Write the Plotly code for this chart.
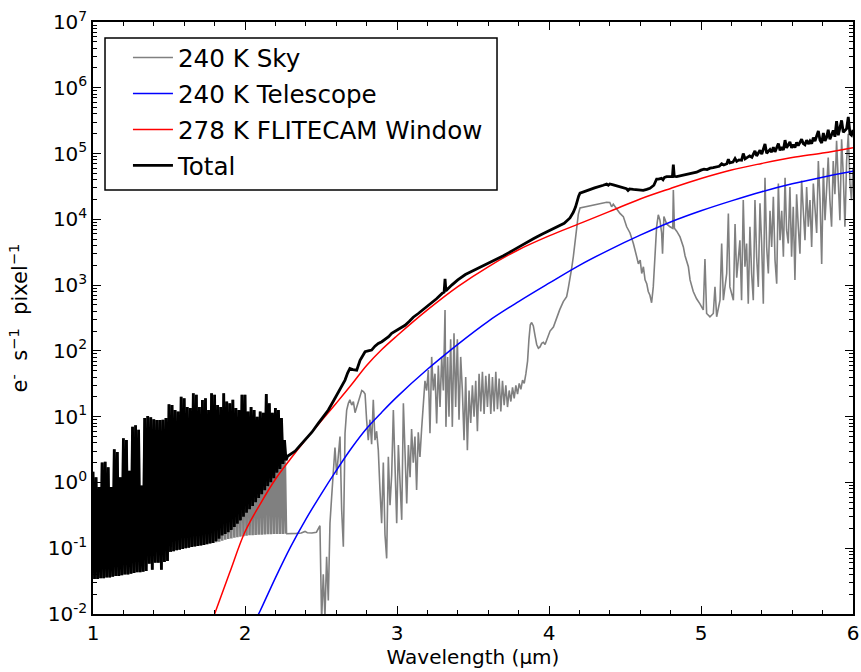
import plotly.graph_objects as go

# ---------------- data ----------------
# Dense OH-line region (1.00-2.27 um): spike peaks on a 0.02 um grid,
# troughs half way between them.
osc_peak_wl = [round(1.00 + 0.02 * i, 2) for i in range(64)]
osc_trough_wl = [round(w + 0.01, 2) for w in osc_peak_wl]

osc_peak = [1.45, 1.2, 0.85, 2.0, 2.07, 1.7, 0.85, 3.2, 2.9, 1.2,
            4.7, 4.4, 1.5, 7.0, 7.4, 6.3, 0.9, 9.5, 10.2, 9.8,
            9.1, 8.9, 8.9, 9.0, 9.5, 15.5, 15.0, 12.6, 12.0, 20.0,
            19.0, 14.0, 13.5, 22.6, 21.5, 14.0, 17.9, 19.0, 12.6, 22.6,
            21.5, 15.0, 14.0, 22.6, 17.0, 16.0, 18.0, 13.5, 12.6, 21.5,
            21.5, 12.0, 14.0, 12.6, 10.0, 12.0, 11.5, 22.0, 16.0, 11.5,
            13.5, 12.6, 9.5, 4.4]

sky_floor = [0.034, 0.034, 0.035, 0.035, 0.036, 0.036, 0.037, 0.038, 0.038, 0.039,
             0.040, 0.040, 0.041, 0.042, 0.043, 0.043, 0.044, 0.045, 0.058, 0.047,
             0.060, 0.060, 0.047, 0.062, 0.064, 0.088, 0.090, 0.093, 0.095, 0.097,
             0.100, 0.102, 0.104, 0.106, 0.108, 0.110, 0.112, 0.115, 0.118, 0.120,
             0.123, 0.126, 0.130, 0.135, 0.138, 0.141, 0.144, 0.147, 0.150, 0.152,
             0.155, 0.157, 0.158, 0.159, 0.160, 0.161, 0.162, 0.163, 0.163, 0.164,
             0.164, 0.165, 0.165, 0.166]

total_floor = [0.034, 0.034, 0.035, 0.035, 0.036, 0.036, 0.037, 0.038, 0.038, 0.039,
               0.040, 0.040, 0.041, 0.042, 0.043, 0.043, 0.044, 0.045, 0.058, 0.047,
               0.060, 0.060, 0.047, 0.062, 0.064, 0.088, 0.090, 0.093, 0.095, 0.097,
               0.100, 0.102, 0.104, 0.106, 0.108, 0.110, 0.112, 0.115, 0.118, 0.120,
               0.128, 0.140, 0.156, 0.165, 0.175, 0.190, 0.210, 0.235, 0.265, 0.300,
               0.345, 0.390, 0.440, 0.500, 0.580, 0.660, 0.760, 0.880, 1.010, 1.160,
               1.410, 1.600, 1.910, 2.170]

# Sky beyond the OH region
sky_wl = [2.28, 2.31, 2.34, 2.37, 2.395, 2.41, 2.44, 2.47, 2.485, 2.493,
          2.504, 2.515, 2.526, 2.537, 2.548, 2.559, 2.57, 2.581, 2.592, 2.603,
          2.614, 2.625, 2.636, 2.647, 2.658, 2.669, 2.68, 2.69, 2.702, 2.713,
          2.724, 2.735, 2.746, 2.757, 2.768, 2.779, 2.79, 2.80, 2.811, 2.822,
          2.833, 2.844, 2.855, 2.866, 2.877, 2.888, 2.899, 2.91, 2.921, 2.932,
          2.943, 2.954, 2.965, 2.976, 2.987, 2.998, 3.009, 3.02, 3.031, 3.042,
          3.053, 3.064, 3.075, 3.086, 3.096, 3.107, 3.118, 3.129, 3.14, 3.151,
          3.162, 3.173, 3.184, 3.195, 3.206, 3.217, 3.228, 3.239, 3.25, 3.261,
          3.272, 3.283, 3.294, 3.305, 3.316, 3.322, 3.333, 3.342, 3.353, 3.364,
          3.375, 3.386, 3.397, 3.408, 3.419, 3.43, 3.441, 3.452, 3.463, 3.474,
          3.485, 3.496, 3.507, 3.518, 3.529, 3.54, 3.551, 3.562, 3.573, 3.584,
          3.595, 3.606, 3.617, 3.628, 3.639, 3.65, 3.661, 3.672, 3.683, 3.694,
          3.705, 3.716, 3.727, 3.738, 3.749, 3.76, 3.771, 3.782, 3.793, 3.804,
          3.815, 3.826, 3.837, 3.848, 3.859, 3.868, 3.877, 3.886, 3.897, 3.908,
          3.919, 3.93, 3.941, 3.952, 3.963, 3.974, 3.985, 4.007, 4.029, 4.05,
          4.07, 4.094, 4.116, 4.127, 4.138, 4.149, 4.16, 4.171, 4.182, 4.193,
          4.204, 4.226, 4.248, 4.27, 4.30, 4.33, 4.357, 4.379, 4.40, 4.412,
          4.423, 4.445, 4.467, 4.489, 4.511, 4.533, 4.555, 4.577, 4.588, 4.60,
          4.61, 4.621, 4.632, 4.643, 4.653, 4.664, 4.675, 4.686, 4.697, 4.708,
          4.719, 4.73, 4.741, 4.747, 4.756, 4.774, 4.796, 4.814, 4.818, 4.825,
          4.84, 4.862, 4.884, 4.895, 4.917, 4.928, 4.949, 4.971, 4.993, 5.015,
          5.026, 5.037, 5.059, 5.081, 5.092, 5.103, 5.125, 5.136, 5.147, 5.169,
          5.18, 5.19, 5.213, 5.224, 5.235, 5.256, 5.267, 5.278, 5.289, 5.30,
          5.311, 5.322, 5.333, 5.344, 5.355, 5.366, 5.377, 5.388, 5.399, 5.41,
          5.421, 5.432, 5.443, 5.454, 5.465, 5.476, 5.487, 5.498, 5.509, 5.52,
          5.531, 5.542, 5.553, 5.563, 5.574, 5.585, 5.596, 5.607, 5.618, 5.629,
          5.64, 5.651, 5.662, 5.673, 5.684, 5.695, 5.706, 5.717, 5.728, 5.739,
          5.75, 5.761, 5.772, 5.783, 5.794, 5.805, 5.816, 5.826, 5.837, 5.848,
          5.859, 5.87, 5.881, 5.892, 5.903, 5.914, 5.925, 5.936, 5.947, 5.958,
          5.969, 5.98, 5.99, 6.0]
sky_val = [0.166, 0.165, 0.168, 0.17, 0.18, 0.172, 0.17, 0.175, 0.21, 0.22,
           0.008, 0.04, 0.009, 0.074, 0.016, 0.24, 0.6, 1.4, 3.4, 1.3,
           2.5, 5.0, 0.38, 0.105, 5.6, 12.6, 16, 18, 15, 17,
           11.5, 14, 16, 20, 25, 24, 22, 9, 4.4, 9,
           3.8, 18, 4.4, 6, 3.1, 0.77, 0.24, 2.0, 0.16, 0.07,
           2.45, 0.45, 1.3, 12.6, 1.2, 0.24, 3.7, 0.9, 0.27, 16,
           2.45, 0.48, 3.7, 1.2, 6.5, 2.0, 5.0, 0.77, 5.8, 2.45,
           6.5, 14, 35, 25, 51, 5.6, 81, 25, 45, 7.9,
           60, 14, 81, 25, 417, 7, 81, 10, 150, 7,
           185, 14, 150, 9, 81, 25, 4.4, 40, 3.1, 25,
           8, 30, 10, 35, 6, 45, 12, 48, 11, 42,
           14, 45, 11, 40, 12, 48, 13, 38, 12, 35,
           15, 30, 14, 25, 17, 28, 19, 30, 22, 32,
           26, 36, 32, 45, 70, 150, 250, 270, 240, 170,
           125, 110, 115, 130, 135, 125, 150, 200, 230, 320,
           420, 560, 665, 900, 1200, 1800, 2700, 4200, 6300, 12000,
           14900, 15300, 15600, 15800, 16500, 17300, 18000, 18200, 18000, 15500,
           17000, 14500, 12300, 11000, 7700, 6200, 4300, 2700, 2100, 2400,
           1500, 1900, 1200, 1050, 800, 700, 540, 940, 2400, 7700,
           11700, 9700, 6200, 3000, 11000, 8500, 7700, 7300, 28000, 7300,
           6600, 5400, 3800, 2800, 1900, 1200, 800, 620, 520, 420,
           2500, 370, 330, 370, 940, 330, 590, 4300, 590, 1500,
           12300, 940, 590, 8500, 1300, 4800, 590, 19600, 1900, 4300,
           520, 7700, 1500, 590, 19600, 2700, 940, 17500, 4300, 520,
           43000, 3800, 1500, 13500, 3800, 22000, 2400, 1050, 35000, 4800,
           13500, 2700, 43000, 6900, 4300, 31000, 2700, 15500, 1200, 24000,
           7700, 3000, 39000, 13500, 4800, 31000, 7700, 19600, 3800, 35000,
           13500, 6200, 77000, 19600, 2100, 61000, 9700, 31000, 87000, 19600,
           7700, 77000, 24000, 156000, 35000, 9700, 165000, 48000, 7700, 77000,
           200000, 35000, 19600, 61000]

# Total beyond the OH region
total_wl = [2.28, 2.30, 2.33, 2.36, 2.395, 2.44, 2.482, 2.52, 2.548, 2.58,
            2.614, 2.64, 2.658, 2.675, 2.69, 2.71, 2.735, 2.757, 2.775, 2.79,
            2.81, 2.833, 2.855, 2.877, 2.90, 2.921, 2.945, 2.965, 2.99, 3.009,
            3.03, 3.053, 3.08, 3.107, 3.14, 3.18, 3.228, 3.26, 3.30, 3.31,
            3.316, 3.322, 3.36, 3.40, 3.45, 3.50, 3.55, 3.60, 3.65, 3.70,
            3.765, 3.80, 3.85, 3.90, 3.95, 4.00, 4.05, 4.10, 4.138, 4.16,
            4.175, 4.185, 4.195, 4.204, 4.25, 4.30, 4.357, 4.379, 4.39, 4.40,
            4.423, 4.445, 4.467, 4.49, 4.51, 4.52, 4.53, 4.555, 4.58, 4.60,
            4.62, 4.643, 4.664, 4.69, 4.70, 4.708, 4.72, 4.74, 4.75, 4.76,
            4.774, 4.80, 4.812, 4.818, 4.824, 4.84, 4.87, 4.90, 4.93, 4.971,
            5.00, 5.02, 5.04, 5.06, 5.08, 5.10, 5.12, 5.136, 5.15, 5.17,
            5.18, 5.19, 5.21, 5.224, 5.235, 5.25, 5.267, 5.278, 5.29, 5.30,
            5.32, 5.335, 5.355, 5.366, 5.388, 5.40, 5.421, 5.432, 5.454, 5.465,
            5.476, 5.487, 5.509, 5.52, 5.531, 5.542, 5.553, 5.563, 5.585, 5.596,
            5.607, 5.618, 5.629, 5.64, 5.662, 5.673, 5.684, 5.695, 5.706, 5.717,
            5.728, 5.739, 5.75, 5.772, 5.783, 5.794, 5.805, 5.816, 5.826, 5.837,
            5.848, 5.87, 5.881, 5.892, 5.903, 5.925, 5.936, 5.958, 5.969, 5.98,
            5.99, 6.00]
total_val = [2.5, 2.7, 3.0, 3.6, 4.4, 5.8, 7.9, 10.5, 12.6, 17,
             24, 31, 36, 46, 54, 52, 51, 72, 85, 97,
             100, 103, 118, 130, 138, 150, 165, 185, 200, 212,
             230, 245, 280, 325, 370, 440, 525, 620, 760, 780,
             1250, 820, 1000, 1200, 1450, 1650, 1900, 2150, 2450, 2800,
             3400, 3800, 4400, 5100, 5900, 6700, 7600, 8700, 10500, 12800,
             15500, 19000, 22500, 25000, 27500, 30000, 33000, 34500, 33000, 34500,
             33400, 32500, 31500, 30000, 29200, 27500, 29000, 28500, 28000, 27500,
             27500, 28500, 29600, 33000, 39000, 41000, 41000, 42000, 40000, 43500,
             44500, 45000, 44500, 68000, 45000, 44500, 46000, 48000, 50000, 52000,
             56000, 58000, 57000, 60000, 61000, 63000, 64000, 70000, 67000, 70000,
             82000, 72000, 74000, 84000, 76000, 80000, 79000, 100000, 83000, 86000,
             92000, 88000, 110000, 92000, 112000, 98000, 140000, 101000, 115000, 105000,
             125000, 106000, 142000, 112000, 125000, 113000, 160000, 122000, 150000, 122000,
             137000, 123000, 148000, 132000, 165000, 142000, 136000, 160000, 140000, 155000,
             141000, 175000, 155000, 220000, 160000, 145000, 205000, 155000, 175000, 230000,
             165000, 225000, 180000, 310000, 190000, 320000, 210000, 240000, 360000, 200000,
             190000, 230000]

# Smooth emission curves
window_wl = [1.80, 1.90, 2.00, 2.10, 2.20, 2.30, 2.40, 2.50, 2.60, 2.70,
             2.80, 2.90, 3.00, 3.20, 3.40, 3.60, 3.80, 4.00, 4.20, 4.40,
             4.60, 4.80, 5.00, 5.20, 5.40, 5.60, 5.80, 6.00]
window_val = [0.010, 0.043, 0.178, 0.47, 1.12, 2.29, 4.5, 8.5, 16.0, 30.5,
              60.0, 105, 170, 420, 950, 1900, 3450, 5600, 8600, 13200,
              20400, 29500, 41700, 56200, 70800, 87100, 102000, 123000]

tel_wl = [2.08, 2.10, 2.20, 2.30, 2.40, 2.50, 2.60, 2.70, 2.80, 2.90,
          3.00, 3.20, 3.40, 3.60, 3.80, 4.00, 4.20, 4.40, 4.60, 4.80,
          5.00, 5.20, 5.40, 5.60, 5.80, 6.00]
tel_val = [0.0091, 0.0112, 0.0355, 0.105, 0.275, 0.66, 1.51, 3.31, 6.61, 11.7,
           20.0, 52.5, 126, 282, 562, 1070, 2000, 3470, 5750, 9120,
           13500, 19100, 26300, 34700, 43700, 53700]

ytick_vals = [1e-2, 1e-1, 1e0, 1e1, 1e2, 1e3, 1e4, 1e5, 1e6, 1e7]
ytick_text = ["10<sup>-2</sup>", "10<sup>-1</sup>", "10<sup>0</sup>", "10<sup>1</sup>",
              "10<sup>2</sup>", "10<sup>3</sup>", "10<sup>4</sup>", "10<sup>5</sup>",
              "10<sup>6</sup>", "10<sup>7</sup>"]

# ---------------- build series ----------------
def interleave(a, b):
    out = []
    for p, q in zip(a, b):
        out += [p, q]
    return out

osc_x = interleave(osc_peak_wl, osc_trough_wl)
sky_osc_y = interleave(osc_peak, sky_floor)
# the long-wavelength sky part starts from the last OH trough so the line is continuous
sky_x = [osc_trough_wl[-1]] + sky_wl
sky_y = [sky_floor[-1]] + sky_val
tot_x = osc_x + total_wl
tot_y = interleave(osc_peak, total_floor) + total_val

FONT = "DejaVu Sans"
fig = go.Figure()
fig.add_trace(go.Scatter(x=osc_x, y=sky_osc_y, mode="lines", name="240 K Sky",
                         legendgroup="a", showlegend=False, hoverinfo="skip",
                         line=dict(color="#808080", width=2.6)))
fig.add_trace(go.Scatter(x=sky_x, y=sky_y, mode="lines", name="240 K Sky",
                         legendgroup="a", line=dict(color="#808080", width=1.6)))
fig.add_trace(go.Scatter(x=tel_wl, y=tel_val, mode="lines", name="240 K Telescope",
                         legendgroup="b", line=dict(color="#0000ff", width=1.5, shape="spline")))
fig.add_trace(go.Scatter(x=window_wl, y=window_val, mode="lines", name="278 K FLITECAM Window",
                         legendgroup="c", line=dict(color="#ff0000", width=1.5, shape="spline")))
fig.add_trace(go.Scatter(x=tot_x, y=tot_y, mode="lines", name="Total",
                         legendgroup="d", line=dict(color="#000000", width=2.8)))

minor_y = [m * 10 ** e for e in range(-2, 7) for m in range(2, 10)]

fig.update_layout(
    width=861, height=672,
    margin=dict(l=93, r=8, t=22, b=58, autoexpand=False),
    paper_bgcolor="white", plot_bgcolor="white",
    font=dict(family=FONT, size=20, color="black"),
    showlegend=True,
    legend=dict(x=0.046, y=0.978, xanchor="left", yanchor="top",
                bgcolor="rgba(0,0,0,0)", borderwidth=0,
                font=dict(family=FONT, size=24.6, color="black"),
                tracegroupgap=1, itemwidth=40),
    shapes=[dict(type="rect", xref="paper", yref="paper",
                 x0=0.0158, x1=0.5316, y0=0.7162, y1=0.973,
                 line=dict(color="black", width=1.5), fillcolor="white", layer="below")],
)
fig.update_xaxes(range=[1, 6], showline=True, linecolor="black", linewidth=1.5, mirror="allticks",
                 ticks="inside", ticklen=8, tickwidth=1, tickcolor="black",
                 tickvals=[1, 2, 3, 4, 5, 6], ticktext=["1", "2", "3", "4", "5", "6"],
                 showgrid=False, zeroline=False, automargin=False, ticklabeloverflow="allow",
                 minor=dict(ticks="inside", ticklen=4, tickwidth=1, tickcolor="black",
                            dtick=0.2, showgrid=False),
                 tickfont=dict(family=FONT, size=20),
                 title=dict(text="Wavelength (μm)", font=dict(family=FONT, size=20), standoff=4))
fig.update_yaxes(type="log", range=[-2, 7], showline=True, linecolor="black", linewidth=1.5,
                 mirror="allticks", ticks="inside", ticklen=8, tickwidth=1, tickcolor="black",
                 tickvals=ytick_vals, ticktext=ytick_text, showgrid=False, zeroline=False,
                 automargin=False, ticklabeloverflow="allow",
                 minor=dict(ticks="inside", ticklen=4, tickwidth=1, tickcolor="black",
                            tickvals=minor_y, showgrid=False),
                 tickfont=dict(family=FONT, size=20),
                 title=dict(text="e<sup>-</sup>  s<sup>−1</sup>  pixel<sup>−1</sup>",
                            font=dict(family=FONT, size=21), standoff=14))

# remove the default page margin so the 861x672 figure fills the window exactly
fig.write_html("out.html", config={"displayModeBar": False},
               post_script="document.body.style.margin='0';document.body.style.overflow='hidden';")
